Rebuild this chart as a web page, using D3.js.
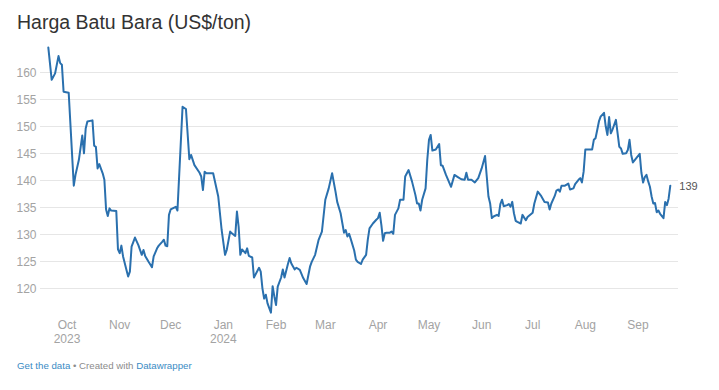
<!DOCTYPE html>
<html>
<head>
<meta charset="utf-8">
<script src="https://cdn.jsdelivr.net/npm/d3@7"></script>
<style>
  html, body { margin: 0; padding: 0; background: #fff; }
  svg { display: block; }
  text { font-family: "Liberation Sans", Arial, Helvetica, sans-serif; }
</style>
</head>
<body>
<div id="chart"></div>
<script>
// ---------- DATA ----------
const title = "Harga Batu Bara (US$/ton)";

const dates = [
  "2023-09-20","2023-09-22","2023-09-24","2023-09-26","2023-09-27","2023-09-28","2023-09-29",
  "2023-10-02","2023-10-05","2023-10-06","2023-10-08","2023-10-10","2023-10-11","2023-10-12","2023-10-13",
  "2023-10-16","2023-10-17","2023-10-18","2023-10-19","2023-10-20","2023-10-22","2023-10-23","2023-10-24",
  "2023-10-25","2023-10-26","2023-10-27","2023-10-30","2023-10-31",
  "2023-11-01","2023-11-02","2023-11-03","2023-11-05","2023-11-06","2023-11-07","2023-11-08","2023-11-10",
  "2023-11-12","2023-11-14","2023-11-15","2023-11-16","2023-11-18","2023-11-20","2023-11-21","2023-11-23",
  "2023-11-24","2023-11-26","2023-11-27","2023-11-28","2023-11-29","2023-11-30",
  "2023-12-01","2023-12-04","2023-12-05","2023-12-08","2023-12-10","2023-12-12","2023-12-13","2023-12-15",
  "2023-12-18","2023-12-19","2023-12-20","2023-12-21","2023-12-22","2023-12-26","2023-12-29","2023-12-31",
  "2024-01-02","2024-01-03","2024-01-05","2024-01-06","2024-01-08","2024-01-09","2024-01-10","2024-01-11",
  "2024-01-12","2024-01-14","2024-01-15","2024-01-16","2024-01-18","2024-01-19","2024-01-22","2024-01-23",
  "2024-01-24","2024-01-25","2024-01-26","2024-01-27","2024-01-29","2024-01-30","2024-01-31",
  "2024-02-01","2024-02-02","2024-02-04","2024-02-05","2024-02-06","2024-02-08","2024-02-09","2024-02-10",
  "2024-02-12","2024-02-13","2024-02-15","2024-02-17","2024-02-19","2024-02-21","2024-02-22","2024-02-24",
  "2024-02-26","2024-02-28",
  "2024-03-01","2024-03-03","2024-03-05","2024-03-07","2024-03-08","2024-03-10","2024-03-12","2024-03-13",
  "2024-03-14","2024-03-15","2024-03-16","2024-03-18","2024-03-19","2024-03-20","2024-03-22","2024-03-23",
  "2024-03-25","2024-03-26","2024-03-27","2024-03-29","2024-03-31",
  "2024-04-01","2024-04-02","2024-04-03","2024-04-04","2024-04-05","2024-04-06","2024-04-08","2024-04-09",
  "2024-04-10","2024-04-11","2024-04-13","2024-04-14","2024-04-16","2024-04-17","2024-04-19","2024-04-21",
  "2024-04-23","2024-04-24","2024-04-25","2024-04-26","2024-04-27","2024-04-29","2024-04-30",
  "2024-05-01","2024-05-02","2024-05-03","2024-05-05","2024-05-07","2024-05-08","2024-05-09","2024-05-11",
  "2024-05-14","2024-05-16","2024-05-18","2024-05-20","2024-05-22","2024-05-23","2024-05-24","2024-05-26",
  "2024-05-28","2024-05-30",
  "2024-06-01","2024-06-03","2024-06-04","2024-06-05","2024-06-06","2024-06-07","2024-06-08","2024-06-10",
  "2024-06-11","2024-06-12","2024-06-13","2024-06-14","2024-06-16","2024-06-17","2024-06-18","2024-06-19",
  "2024-06-20","2024-06-21","2024-06-22","2024-06-24","2024-06-25","2024-06-27","2024-06-28",
  "2024-07-01","2024-07-02","2024-07-04","2024-07-06","2024-07-08","2024-07-10","2024-07-11","2024-07-12",
  "2024-07-14","2024-07-15","2024-07-16","2024-07-17","2024-07-18","2024-07-20","2024-07-22","2024-07-23",
  "2024-07-25","2024-07-26","2024-07-28","2024-07-29","2024-07-30","2024-07-31",
  "2024-08-01","2024-08-03","2024-08-05","2024-08-06","2024-08-07","2024-08-08","2024-08-09","2024-08-10",
  "2024-08-12","2024-08-13","2024-08-14","2024-08-15","2024-08-16","2024-08-17","2024-08-19","2024-08-20",
  "2024-08-21","2024-08-22","2024-08-23","2024-08-25","2024-08-26","2024-08-27","2024-08-28","2024-08-29",
  "2024-08-31",
  "2024-09-02","2024-09-03","2024-09-04","2024-09-05","2024-09-06","2024-09-07","2024-09-08","2024-09-09",
  "2024-09-10","2024-09-11","2024-09-12","2024-09-13","2024-09-14","2024-09-16","2024-09-17","2024-09-18",
  "2024-09-19","2024-09-20"
];

const prices = [
  164.6,158.6,159.8,163.0,161.7,161.4,156.4,
  156.2,139.0,141.0,143.8,148.3,145.0,149.6,150.9,
  151.1,146.4,146.2,142.2,143.0,141.3,140.1,134.6,
  133.4,134.8,134.4,134.3,127.2,
  126.5,127.9,125.9,123.4,122.2,123.1,127.7,129.4,
  128.0,126.2,127.1,126.0,124.9,123.9,125.9,127.4,
  127.9,128.6,129.0,127.9,127.8,133.6,
  134.6,135.1,134.4,153.6,153.2,143.9,144.7,142.8,
  141.4,140.7,138.2,141.6,141.3,141.3,137.0,130.8,
  126.2,127.1,130.5,130.2,129.7,134.2,131.4,126.2,
  127.2,126.5,127.4,126.0,125.7,122.0,123.8,123.1,
  120.0,118.1,118.8,117.2,115.5,120.4,118.5,
  116.9,120.3,122.0,123.5,122.0,124.5,125.6,124.6,
  123.5,123.8,123.4,121.9,120.8,124.0,124.9,126.2,
  128.9,130.5,
  136.4,138.5,141.3,137.9,136.0,133.9,130.3,130.8,
  129.6,130.1,129.1,127.0,125.3,124.9,124.5,125.3,
  126.2,129.0,131.1,132.0,132.7,
  133.0,134.0,131.7,128.8,130.2,130.3,130.3,130.5,
  130.1,133.6,134.8,136.4,136.4,140.7,141.9,139.8,
  137.3,135.7,135.7,134.4,136.4,138.5,143.8,
  147.5,148.4,145.5,145.7,146.7,142.8,142.7,141.0,
  138.8,141.0,140.6,140.2,140.1,141.4,140.1,140.1,
  139.6,140.4,
  142.2,144.5,140.7,137.0,135.7,133.0,133.3,133.6,
  133.4,135.6,136.4,135.2,135.4,135.6,135.1,136.0,
  133.9,132.5,132.3,132.0,133.6,132.6,133.2,
  134.0,135.7,137.9,137.1,136.0,135.9,134.6,135.7,
  137.1,138.1,138.3,137.9,139.0,139.0,139.4,138.3,
  138.5,139.3,140.1,140.4,139.6,141.6,
  145.7,145.7,145.7,147.5,147.8,149.3,150.9,151.8,
  152.5,150.0,148.4,151.7,148.7,149.4,151.2,148.7,
  146.2,145.9,144.9,145.0,145.6,147.5,144.7,143.3,
  144.1,
  144.9,141.4,139.6,140.6,141.0,139.8,138.8,137.0,
  135.7,135.8,134.1,134.4,133.8,133.0,136.0,135.4,
  136.6,139.0
];

const yTicks = [120, 125, 130, 135, 140, 145, 150, 155, 160];
const monthTicks = ["2023-10-01","2023-11-01","2023-12-01","2024-01-01","2024-02-01","2024-03-01",
                    "2024-04-01","2024-05-01","2024-06-01","2024-07-01","2024-08-01","2024-09-01"];
const monthLabels = ["Oct","Nov","Dec","Jan","Feb","Mar","Apr","May","Jun","Jul","Aug","Sep"];
const yearLabels  = ["2023","","","2024","","","","","","","",""];

const footerLink = "Get the data";
const footerSep = " • Created with ";
const footerBrand = "Datawrapper";

// ---------- CHART ----------
const W = 719, H = 390;
const parse = d3.timeParse("%Y-%m-%d");
const data = dates.map((d, i) => ({ date: parse(d), value: prices[i] }));

const svg = d3.select("#chart").append("svg")
  .attr("width", W).attr("height", H);
svg.append("rect").attr("width", W).attr("height", H).attr("fill", "#fff");

const x = d3.scaleTime()
  .domain(d3.extent(data, d => d.date))
  .range([48.3, 670.3]);
const y = d3.scaleLinear()
  .domain([120, 160])
  .range([288.3, 72.3]);

// title
svg.append("text")
  .attr("x", 17).attr("y", 29)
  .attr("font-size", "19.5px")
  .attr("fill", "#333")
  .text(title);

// grid + y labels
const yAxis = d3.axisLeft(y).tickValues(yTicks).tickSize(0).tickPadding(0);
const gy = svg.append("g").call(yAxis);
gy.select(".domain").remove();
gy.selectAll(".tick line").remove();
gy.selectAll(".tick text")
  .attr("x", 36.5).attr("dy", "0.35em")
  .attr("font-size", "12px").attr("font-family", "Liberation Sans, Arial, sans-serif")
  .attr("fill", "#a3a3a3").attr("text-anchor", "end");

svg.append("g").selectAll("line").data(yTicks).join("line")
  .attr("x1", 40).attr("x2", 678)
  .attr("y1", d => Math.round(y(d)) + 0.5).attr("y2", d => Math.round(y(d)) + 0.5)
  .attr("stroke", "#e6e6e6").attr("stroke-width", 1);

// x labels
const mt = monthTicks.map(parse);
const xg = svg.append("g");
xg.selectAll("text.m").data(mt).join("text").attr("class", "m")
  .attr("x", d => x(d)).attr("y", 329)
  .attr("text-anchor", "middle").attr("font-size", "12px").attr("fill", "#a3a3a3")
  .text((d, i) => monthLabels[i]);
xg.selectAll("text.yr").data(mt.filter((d, i) => yearLabels[i])).join("text").attr("class", "yr")
  .attr("x", d => x(d)).attr("y", 343)
  .attr("text-anchor", "middle").attr("font-size", "12px").attr("fill", "#a3a3a3")
  .text(d => yearLabels[mt.indexOf(d)]);

// line
const line = d3.line().x(d => x(d.date)).y(d => y(d.value));
svg.append("path").datum(data)
  .attr("d", line)
  .attr("fill", "none")
  .attr("stroke", "#2a70ae")
  .attr("stroke-width", 2)
  .attr("stroke-linejoin", "round")
  .attr("stroke-linecap", "round");

// end label
const last = data[data.length - 1];
svg.append("text")
  .attr("x", x(last.date) + 9).attr("y", y(last.value)).attr("dy", "0.35em")
  .attr("font-size", "11px").attr("fill", "#555")
  .text(d3.format(".0f")(last.value));

// footer
const ft = svg.append("text").attr("x", 17).attr("y", 369).attr("font-size", "9.7px");
ft.append("tspan").attr("fill", "#3a8bc4").text(footerLink);
ft.append("tspan").attr("fill", "#8c8c8c").text(footerSep);
ft.append("tspan").attr("fill", "#3a8bc4").text(footerBrand);
</script>
</body>
</html>
